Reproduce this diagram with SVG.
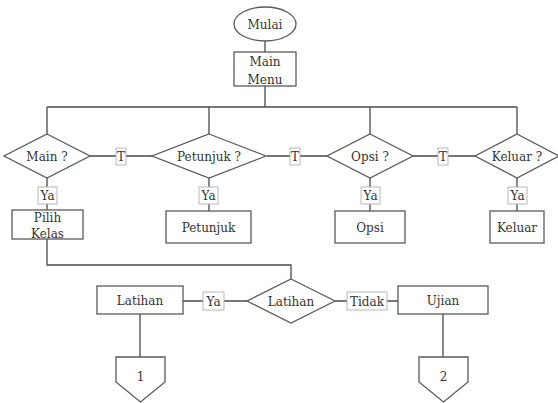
<svg xmlns="http://www.w3.org/2000/svg" width="558" height="403" viewBox="0 0 558 403">
<style>
.s{fill:#fff;stroke:#5a5a5a;stroke-width:1.3}
.c{fill:none;stroke:#4a4a4a;stroke-width:1.3}
.lb{fill:#fff;stroke:#b0b0b0;stroke-width:0.9}
text{font-family:'DejaVu Serif','Liberation Serif',serif;font-size:12px;fill:#333;text-anchor:middle}
</style>
<rect width="558" height="403" fill="#fff"/>
<g id="connectors">
<path class="c" d="M265,41V52"/>
<path class="c" d="M265,86V107"/>
<path class="c" d="M47,107H517"/>
<path class="c" d="M47,107V134M209,107V134M370,107V134M517,107V134"/>
<path class="c" d="M89,156H153M267,156H327M412,156H475"/>
<path class="c" d="M47,178V210M209,178V211M370,178V211M517,178V211"/>
<path class="c" d="M47,239V265H291V279"/>
<path class="c" d="M247,301H183M335,301H398"/>
<path class="c" d="M140,314V357M443,314V357"/>
</g>
<g id="labels">
<g id="lbl-t1"><rect class="lb" x="116" y="148" width="10" height="17"/><text x="121" y="161">T</text></g>
<g id="lbl-t2"><rect class="lb" x="290" y="148" width="10" height="17"/><text x="295" y="161">T</text></g>
<g id="lbl-t3"><rect class="lb" x="438" y="148" width="10" height="17"/><text x="443" y="161">T</text></g>
<g id="lbl-ya1"><rect class="lb" x="38" y="187" width="19" height="17"/><text x="47.5" y="200">Ya</text></g>
<g id="lbl-ya2"><rect class="lb" x="199" y="187" width="19" height="17"/><text x="208.5" y="200">Ya</text></g>
<g id="lbl-ya3"><rect class="lb" x="361" y="187" width="19" height="17"/><text x="370.5" y="200">Ya</text></g>
<g id="lbl-ya4"><rect class="lb" x="508" y="187" width="19" height="17"/><text x="517.5" y="200">Ya</text></g>
<g id="lbl-ya5"><rect class="lb" x="203" y="292" width="21" height="18"/><text x="213.5" y="306">Ya</text></g>
<g id="lbl-tidak"><rect class="lb" x="347" y="292" width="40" height="18"/><text x="367" y="306">Tidak</text></g>
</g>
<g id="mulai"><ellipse class="s" cx="265" cy="24" rx="31" ry="17"/><text x="265" y="29">Mulai</text></g>
<g id="main-menu"><rect class="s" x="234" y="52" width="62" height="34"/><text x="265" y="66">Main</text><text x="265" y="84">Menu</text></g>
<g id="d-main"><polygon class="s" points="47,134 90,156 47,178 4,156"/><text x="47" y="161">Main ?</text></g>
<g id="d-petunjuk"><polygon class="s" points="209,134 266,156 209,178 152,156"/><text x="209" y="161">Petunjuk ?</text></g>
<g id="d-opsi"><polygon class="s" points="370,134 413,156 370,178 327,156"/><text x="370" y="161">Opsi ?</text></g>
<g id="d-keluar"><polygon class="s" points="517,134 559,156 517,178 475,156"/><text x="517" y="161">Keluar ?</text></g>
<g id="pilih-kelas"><rect class="s" x="12" y="210" width="71" height="29"/><text x="47.5" y="222">Pilih</text><text x="47.5" y="238">Kelas</text></g>
<g id="petunjuk"><rect class="s" x="166" y="211" width="85" height="32"/><text x="208.5" y="232">Petunjuk</text></g>
<g id="opsi"><rect class="s" x="335" y="211" width="70" height="32"/><text x="370" y="232">Opsi</text></g>
<g id="keluar"><rect class="s" x="490" y="211" width="54" height="32"/><text x="517" y="232">Keluar</text></g>
<g id="d-latihan"><polygon class="s" points="291,279 335,301 291,323 247,301"/><text x="291" y="306">Latihan</text></g>
<g id="latihan"><rect class="s" x="97" y="286" width="86" height="28"/><text x="140" y="305">Latihan</text></g>
<g id="ujian"><rect class="s" x="398" y="286" width="90" height="28"/><text x="443" y="305">Ujian</text></g>
<g id="off1"><polygon class="s" points="116,357 165,357 165,382 140.5,402 116,382"/><text x="140.5" y="381">1</text></g>
<g id="off2"><polygon class="s" points="419,357 468,357 468,382 443.5,402 419,382"/><text x="443.5" y="381">2</text></g>
</svg>
